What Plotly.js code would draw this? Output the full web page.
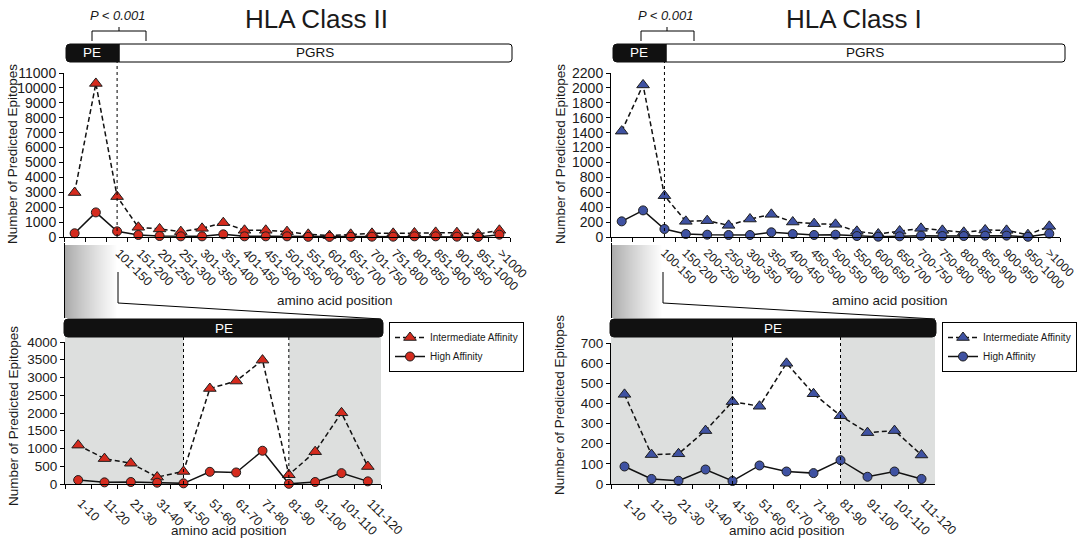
<!DOCTYPE html>
<html>
<head>
<meta charset="utf-8">
<script src="https://cdn.plot.ly/plotly-3.0.1.min.js"></script>
<style>html,body{margin:0;padding:0;background:#fff;}#chart{width:1080px;height:544px;}</style>
</head>
<body>
<div id="chart"></div>
<script>
// ---------- DATA ----------
const categoriesII = ['1-50','51-100','101-150','151-200','201-250','251-300','301-350','351-400','401-450','451-500','501-550','551-600','601-650','651-700','701-750','751-800','801-850','851-900','901-950','951-1000','>1000'];
const categoriesI  = ['1-50','50-100','100-150','150-200','200-250','250-300','300-350','350-400','400-450','450-500','500-550','550-600','600-650','650-700','700-750','750-800','800-850','850-900','900-950','950-1000','>1000'];
const hiddenLabels = 2; // first two category labels are covered by the PE zoom band

const classII_intermediate = [2980,10300,2710,650,540,360,580,960,450,450,360,180,90,180,245,245,270,310,290,200,450];
const classII_high         = [250,1650,380,135,65,45,45,180,45,45,45,10,5,10,22,22,45,45,22,8,155];
const classI_intermediate  = [1420,2040,554,210,219,156,241,304,201,179,170,76,40,80,116,89,63,94,89,31,143];
const classI_high          = [210,357,107,40,31,27,27,63,40,27,31,13,4,9,18,13,13,18,18,3,45];

const peCategories = ['1-10','11-20','21-30','31-40','41-50','51-60','61-70','71-80','81-90','91-100','101-110','111-120'];
const peII_intermediate = [1095,715,585,195,353,2690,2900,3490,260,910,2005,492];
const peII_high         = [111,46,56,37,19,343,325,937,5,56,306,74];
const peI_intermediate  = [445,146,150,265,409,386,599,448,339,255,265,144];
const peI_high          = [87,25,16,72,15,92,62,54,118,36,62,25];

const seriesNames = ['Intermediate Affinity','High Affinity'];
const peBoundaryCats = ['41-50','81-90'];
const dividerCatTop = 2; // index of 101-150 / 100-150

// ---------- HELPERS ----------
const W = 1080, H = 544;
const X = x => x / W;
const Y = y => 1 - y / H;
const FONT = 'Arial, "Liberation Sans", Helvetica, sans-serif';
const RED = '#d52b1e', BLUE = '#3f52a2', EDGE = '#1e1e1e', TXT = '#1a1a1a';

function rrect(x0, y0, x1, y1, rtl, rtr, rbr, rbl) {
  return `M ${X(x0 + rtl)},${Y(y0)} L ${X(x1 - rtr)},${Y(y0)} Q ${X(x1)},${Y(y0)} ${X(x1)},${Y(y0 + rtr)} ` +
         `L ${X(x1)},${Y(y1 - rbr)} Q ${X(x1)},${Y(y1)} ${X(x1 - rbr)},${Y(y1)} ` +
         `L ${X(x0 + rbl)},${Y(y1)} Q ${X(x0)},${Y(y1)} ${X(x0)},${Y(y1 - rbl)} ` +
         `L ${X(x0)},${Y(y0 + rtl)} Q ${X(x0)},${Y(y0)} ${X(x0 + rtl)},${Y(y0)} Z`;
}
function pline(pts) {
  return pts.map((p, i) => (i ? 'L ' : 'M ') + X(p[0]) + ',' + Y(p[1])).join(' ');
}

function makeTraces(cats, inter, high, color, xa, ya, legendId, show) {
  return [
    { type: 'scatter', mode: 'lines+markers', x: cats, y: inter, name: seriesNames[0],
      xaxis: xa, yaxis: ya, legend: legendId, showlegend: show, cliponaxis: false,
      line: { color: '#111', width: 1.5, dash: '5px,3px' },
      marker: { symbol: 'triangle-up', size: 11, color: color, line: { color: EDGE, width: 1 } } },
    { type: 'scatter', mode: 'lines+markers', x: cats, y: high, name: seriesNames[1],
      xaxis: xa, yaxis: ya, legend: legendId, showlegend: show, cliponaxis: false,
      line: { color: '#111', width: 1.5 },
      marker: { symbol: 'circle', size: 9, color: color, line: { color: EDGE, width: 1 } } }
  ];
}

const data = [
  ...makeTraces(categoriesII, classII_intermediate, classII_high, RED, 'x', 'y', 'legend', false),
  ...makeTraces(categoriesI, classI_intermediate, classI_high, BLUE, 'x2', 'y2', 'legend2', false),
  ...makeTraces(peCategories, peII_intermediate, peII_high, RED, 'x3', 'y3', 'legend', true),
  ...makeTraces(peCategories, peI_intermediate, peI_high, BLUE, 'x4', 'y4', 'legend2', true)
];

function xAx(domain, cats, hide, fs, shift, standoff) {
  return { domain: domain, type: 'category', categoryorder: 'array', categoryarray: cats,
    range: [-0.5, cats.length - 0.5], tickmode: 'array', tickvals: cats,
    ticktext: cats.map((c, i) => i < hide ? '' : c),
    tickson: 'boundaries', ticks: 'outside', ticklen: 4, tickcolor: '#000', tickwidth: 1,
    showline: true, linecolor: '#000', linewidth: 1, showgrid: false, zeroline: false,
    tickangle: 45, ticklabelshift: shift, ticklabelstandoff: standoff,
    tickfont: { family: FONT, size: fs, color: TXT }, fixedrange: true };
}
function yAx(domain, range, dtick, fs) {
  return { domain: domain, range: range, dtick: dtick, tick0: 0, tickformat: 'd', ticks: 'outside', ticklen: 4,
    tickcolor: '#000', showline: true, linecolor: '#000', linewidth: 1, showgrid: false, zeroline: false,
    tickfont: { family: FONT, size: fs, color: TXT }, fixedrange: true };
}

const layout = {
  width: W, height: H, margin: { l: 0, r: 0, t: 0, b: 0 },
  paper_bgcolor: '#fff', plot_bgcolor: 'rgba(0,0,0,0)',
  font: { family: FONT, color: TXT },
  xaxis:  Object.assign(xAx([X(64), X(510)], categoriesII, hiddenLabels, 12.5, 2, 3), { anchor: 'y' }),
  yaxis:  Object.assign(yAx([Y(237), Y(73)], [0, 11000], 1000, 14), { anchor: 'x' }),
  xaxis2: Object.assign(xAx([X(611), X(1060)], categoriesI, hiddenLabels, 12, 0, 3), { anchor: 'y2' }),
  yaxis2: Object.assign(yAx([Y(237), Y(73)], [0, 2200], 200, 14), { anchor: 'x2' }),
  xaxis3: Object.assign(xAx([X(65), X(381)], peCategories, 0, 12.5, 3, 6), { anchor: 'y3' }),
  yaxis3: Object.assign(yAx([Y(484), Y(342)], [0, 4000], 500, 13.5), { anchor: 'x3' }),
  xaxis4: Object.assign(xAx([X(611), X(935)], peCategories, 0, 12.5, 3, 6), { anchor: 'y4' }),
  yaxis4: Object.assign(yAx([Y(484), Y(343)], [0, 700], 100, 13.5), { anchor: 'x4' }),
  legend:  { x: X(389), y: Y(322), xanchor: 'left', yanchor: 'top', bgcolor: '#fff', bordercolor: '#000', borderwidth: 1,
             font: { family: FONT, size: 10, color: TXT }, itemwidth: 30, tracegroupgap: 0 },
  legend2: { x: X(942), y: Y(322), xanchor: 'left', yanchor: 'top', bgcolor: '#fff', bordercolor: '#000', borderwidth: 1,
             font: { family: FONT, size: 10, color: TXT }, itemwidth: 30, tracegroupgap: 0 },
  shapes: [],
  annotations: []
};

const S = layout.shapes, A = layout.annotations;

// grey shading in the PE zoom panels (N- and C-terminal regions)
[['x3', 337, 484], ['x4', 337, 484]].forEach(([xa, t, b]) => {
  S.push({ type: 'rect', xref: xa, yref: 'paper', x0: -0.5, x1: peCategories.indexOf(peBoundaryCats[0]), y0: Y(b), y1: Y(t),
           fillcolor: '#dddfde', line: { width: 0 }, layer: 'below' });
  S.push({ type: 'rect', xref: xa, yref: 'paper', x0: peCategories.indexOf(peBoundaryCats[1]), x1: peCategories.length - 0.5, y0: Y(b), y1: Y(t),
           fillcolor: '#dddfde', line: { width: 0 }, layer: 'below' });
  peBoundaryCats.forEach(c => S.push({ type: 'line', xref: xa, yref: 'paper', x0: peCategories.indexOf(c), x1: peCategories.indexOf(c),
           y0: Y(b), y1: Y(t), line: { color: '#000', width: 1, dash: 'dot' } }));
});

// dotted PE/PGRS divider in the top panels
['x', 'x2'].forEach(xa => S.push({ type: 'line', xref: xa, yref: 'paper', x0: dividerCatTop, x1: dividerCatTop,
  y0: Y(237), y1: Y(62), line: { color: '#000', width: 1, dash: 'dot' } }));

// gradient zoom bands
function gradient(x0, x1, y0, y1) {
  const n = Math.round(x1 - x0);
  for (let i = 0; i < n; i++) {
    const t = i / (n - 1);
    const v = Math.round(168 + (255 - 168) * Math.pow(t, 0.85));
    S.push({ type: 'rect', xref: 'paper', yref: 'paper', x0: X(x0 + i), x1: X(x0 + i + 1.2), y0: Y(y1), y1: Y(y0),
             fillcolor: `rgb(${v},${v},${v})`, line: { width: 0 }, layer: 'below' });
  }
}
gradient(65, 118, 245, 318);
gradient(611, 663, 245, 318);
// connector lines
S.push({ type: 'path', xref: 'paper', yref: 'paper', path: pline([[64.5, 243], [64.5, 318]]), line: { color: '#000', width: 1 } });
S.push({ type: 'path', xref: 'paper', yref: 'paper', path: pline([[118, 272], [118, 303], [381, 319]]), line: { color: '#000', width: 1 } });
S.push({ type: 'path', xref: 'paper', yref: 'paper', path: pline([[611.5, 243], [611.5, 318]]), line: { color: '#000', width: 1 } });
S.push({ type: 'path', xref: 'paper', yref: 'paper', path: pline([[663, 272], [663, 303], [935, 319]]), line: { color: '#000', width: 1 } });

// PE / PGRS bars (top)
S.push({ type: 'path', xref: 'paper', yref: 'paper', path: rrect(119, 44, 512, 62, 0, 3, 3, 0), fillcolor: '#fff', line: { color: '#000', width: 1 } });
S.push({ type: 'path', xref: 'paper', yref: 'paper', path: rrect(66, 44, 119, 62, 4, 0, 0, 4), fillcolor: '#111', line: { color: '#111', width: 1 } });
S.push({ type: 'path', xref: 'paper', yref: 'paper', path: rrect(666, 44, 1065, 62, 0, 3, 3, 0), fillcolor: '#fff', line: { color: '#000', width: 1 } });
S.push({ type: 'path', xref: 'paper', yref: 'paper', path: rrect(613, 44, 666, 62, 4, 0, 0, 4), fillcolor: '#111', line: { color: '#111', width: 1 } });
// PE bars (bottom)
S.push({ type: 'path', xref: 'paper', yref: 'paper', path: rrect(64, 319, 383, 337, 4, 4, 4, 4), fillcolor: '#111', line: { color: '#111', width: 1 } });
S.push({ type: 'path', xref: 'paper', yref: 'paper', path: rrect(610, 319, 936, 337, 4, 4, 4, 4), fillcolor: '#111', line: { color: '#111', width: 1 } });

// significance brackets
[[92, 146, 119], [641, 694, 667]].forEach(([a, b, c]) => {
  S.push({ type: 'path', xref: 'paper', yref: 'paper', path: pline([[a, 41], [a, 31], [b, 31], [b, 41]]), line: { color: '#000', width: 1 } });
  S.push({ type: 'path', xref: 'paper', yref: 'paper', path: pline([[c, 31], [c, 27]]), line: { color: '#000', width: 1 } });
});

function note(text, x, y, size, color, extra) {
  A.push(Object.assign({ text: text, x: X(x), y: Y(y), xref: 'paper', yref: 'paper', showarrow: false,
    xanchor: 'center', yanchor: 'middle', font: { family: FONT, size: size, color: color } }, extra || {}));
}
note('HLA Class II', 316, 19, 26, TXT);
note('HLA Class I', 854, 19, 26, TXT);
note('<i>P &lt; 0.001</i>', 118, 15, 13, TXT);
note('<i>P &lt; 0.001</i>', 666, 15, 13, TXT);
note('PE', 92, 53, 13.5, '#fff');
note('PGRS', 315, 53, 13.5, '#111');
note('PE', 639, 53, 13.5, '#fff');
note('PGRS', 865, 53, 13.5, '#111');
note('PE', 224, 328, 13.5, '#fff');
note('PE', 773, 328, 13.5, '#fff');
note('amino acid position', 335, 300, 13.5, TXT);
note('amino acid position', 890, 300, 13.5, TXT);
note('amino acid position', 229, 530, 13.5, TXT);
note('amino acid position', 787, 530, 13.5, TXT);
note('Number of Predicted Epitopes', 12, 154, 13.5, TXT, { textangle: -90 });
note('Number of Predicted Epitopes', 560, 154, 13.5, TXT, { textangle: -90 });
note('Number of Predicted Epitopes', 13, 416, 13.5, TXT, { textangle: -90 });
note('Number of Predicted Epitopes', 559, 405, 13.5, TXT, { textangle: -90 });

Plotly.newPlot('chart', data, layout, { staticPlot: true, displayModeBar: false });
</script>
</body>
</html>
